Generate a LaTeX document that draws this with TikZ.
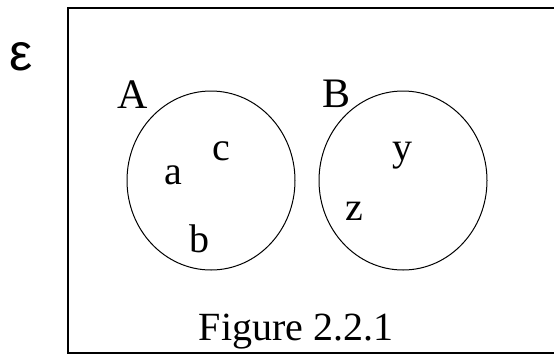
\documentclass[tikz,border=0pt]{standalone}
\usepackage{fontspec}
\setmainfont{Liberation Serif}
\newfontfamily\epsfont{Liberation Sans}
\usetikzlibrary{shapes.geometric}
\begin{document}
\begin{tikzpicture}[x=1pt,y=-1pt,
  setshape/.style={draw, ellipse, line width=1pt, minimum width=168pt, minimum height=179pt, inner sep=0pt},
  lbl/.style={anchor=base, inner sep=0pt, font=\fontsize{40}{44}\selectfont},
  biglbl/.style={anchor=base, inner sep=0pt, font=\fontsize{42}{46}\selectfont}]
\useasboundingbox (0,0) rectangle (554,354);
\clip (0,0) rectangle (554,354);
\node[draw, line width=2pt, anchor=north west, minimum width=520pt, minimum height=345pt, inner sep=0pt] (universe) at (67,7) {};
\node[anchor=base, inner sep=0pt, font=\epsfont\fontsize{52}{56}\selectfont] (eps) at (21.5,70) {ε};
\node[setshape] (setA) at (211,180.5) {};
\node[setshape] (setB) at (403,180.5) {};
\node[biglbl] (labA) at (133,108) {A};
\node[biglbl] (labB) at (337,107) {B};
\node[lbl] (ec) at (221.5,160) {c};
\node[lbl] (ea) at (173.5,184) {a};
\node[lbl] (eb) at (199,252) {b};
\node[lbl] (ey) at (402.5,160) {y};
\node[lbl] (ez) at (354,220) {z};
\node[lbl] (caption) at (296,340) {Figure 2.2.1};
\end{tikzpicture}
\end{document}
